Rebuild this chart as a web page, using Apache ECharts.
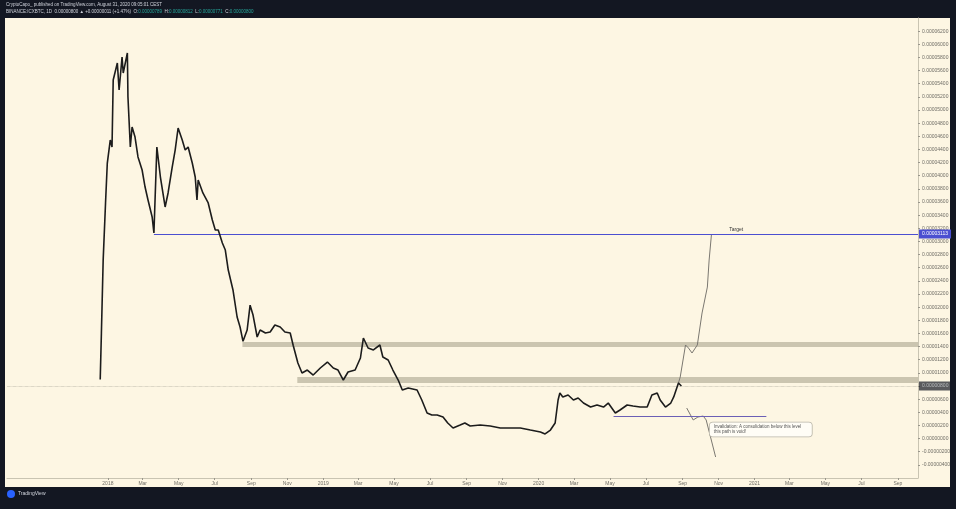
<!DOCTYPE html>
<html>
<head>
<meta charset="utf-8">
<title>ICXBTC 1D</title>
<script src="https://cdn.jsdelivr.net/npm/echarts@6/dist/echarts.min.js"></script>
<style>
html, body { margin: 0; padding: 0; background: #131722; overflow: hidden; }
#frame { position: absolute; left: 5px; top: 18px; width: 945px; height: 469px; background: #fdf6e3; }
#chart { position: absolute; left: 0; top: 0; width: 956px; height: 509px; }
</style>
</head>
<body>
<div id="frame"></div>
<div id="chart"></div>
<script>
// price path (units of 1e-8 BTC)
const priceDates = [
  '2017-12-19', '2017-12-21', '2017-12-24', '2017-12-28', '2017-12-31', '2018-01-05', '2018-01-08', '2018-01-10',
  '2018-01-17', '2018-01-20', '2018-01-25', '2018-01-27', '2018-02-03', '2018-02-04', '2018-02-08', '2018-02-11',
  '2018-02-16', '2018-02-21', '2018-02-28', '2018-03-05', '2018-03-10', '2018-03-17', '2018-03-20', '2018-03-25',
  '2018-03-31', '2018-04-08', '2018-04-13', '2018-04-20', '2018-04-25', '2018-04-30', '2018-05-07', '2018-05-12',
  '2018-05-17', '2018-05-24', '2018-05-29', '2018-06-01', '2018-06-03', '2018-06-11', '2018-06-20', '2018-06-27',
  '2018-07-02', '2018-07-07', '2018-07-14', '2018-07-19', '2018-07-24', '2018-08-01', '2018-08-08', '2018-08-13',
  '2018-08-18', '2018-08-25', '2018-08-30', '2018-09-04', '2018-09-11', '2018-09-16', '2018-09-25', '2018-10-03',
  '2018-10-11', '2018-10-20', '2018-10-28', '2018-11-06', '2018-11-11', '2018-11-14', '2018-11-19', '2018-11-26',
  '2018-12-05', '2018-12-15', '2018-12-27', '2019-01-08', '2019-01-18', '2019-01-26', '2019-02-04', '2019-02-12',
  '2019-02-24', '2019-03-05', '2019-03-10', '2019-03-18', '2019-03-27', '2019-04-07', '2019-04-12', '2019-04-21',
  '2019-04-29', '2019-05-08', '2019-05-15', '2019-05-25', '2019-06-09', '2019-06-17', '2019-06-26', '2019-07-04',
  '2019-07-13', '2019-07-23', '2019-07-31', '2019-08-09', '2019-08-21', '2019-08-29', '2019-09-07', '2019-09-24',
  '2019-10-11', '2019-10-28', '2019-11-14', '2019-12-01', '2019-12-18', '2020-01-04', '2020-01-12', '2020-01-21',
  '2020-01-29', '2020-02-03', '2020-02-06', '2020-02-11', '2020-02-20', '2020-02-29', '2020-03-08', '2020-03-17',
  '2020-03-29', '2020-04-09', '2020-04-20', '2020-04-28', '2020-05-10', '2020-05-18', '2020-05-30', '2020-06-09',
  '2020-06-21', '2020-07-03', '2020-07-11', '2020-07-20', '2020-07-25', '2020-08-03', '2020-08-12', '2020-08-17',
  '2020-08-25', '2020-08-30'
];
const priceValues = [
  900, 1606, 2717, 3585, 4193, 4543, 4437, 5456,
  5715, 5304, 5806, 5563, 5867, 5198, 4437, 4741,
  4589, 4285, 4087, 3828, 3630, 3372, 3128, 4437,
  3980, 3524, 3737, 4132, 4391, 4726, 4543, 4391,
  4437, 4193, 3980, 3630, 3935, 3737, 3585, 3326,
  3174, 3174, 2976, 2869, 2565, 2261, 1850, 1698,
  1480, 1652, 2030, 1880, 1546, 1652, 1606, 1622,
  1728, 1698, 1622, 1606, 1420, 1393, 1150, 998,
  1043, 967, 1074, 1165, 1074, 1043, 891, 1013,
  1043, 1226, 1530, 1378, 1348, 1424, 1241, 1196,
  1043, 891, 739, 770, 739, 587, 389, 359,
  359, 328, 237, 161, 206, 237, 191, 206,
  191, 161, 161, 161, 130, 100, 70, 130,
  237, 587, 693, 633, 663, 587, 617, 541,
  480, 511, 480, 541, 389, 435, 511, 496,
  480, 480, 663, 693, 587, 480, 541, 633,
  846, 800
];
// drawn projections
const projUpDates = ['2020-08-25', '2020-08-28', '2020-09-06', '2020-09-11', '2020-09-17', '2020-09-26', '2020-10-04', '2020-10-13', '2020-10-16', '2020-10-20'];
const projUpValues = [846, 937, 1424, 1378, 1302, 1424, 1911, 2306, 2717, 3113];
const projDownDates = ['2020-09-08', '2020-09-19', '2020-09-27', '2020-10-06', '2020-10-11', '2020-10-27'];
const projDownValues = [465, 283, 328, 343, 283, -280];
// levels
const targetLevel = 3113;
const targetStart = '2018-03-20';
const upperBand = [1393, 1470];
const upperBandStart = '2018-08-17';
const lowerBand = [846, 937];
const lowerBandStart = '2018-11-18';
const supportLevel = 343;
const supportStart = '2020-05-07';
const supportEnd = '2021-01-21';
const lastPrice = priceValues[priceValues.length - 1];
// axes
const xMin = '2017-07-14';
const xMax = '2021-10-05';
const tickDates = [
  '2018-01-01', '2018-03-01', '2018-05-01', '2018-07-01', '2018-09-01', '2018-11-01',
  '2019-01-01', '2019-03-01', '2019-05-01', '2019-07-01', '2019-09-01', '2019-11-01',
  '2020-01-01', '2020-03-01', '2020-05-01', '2020-07-01', '2020-09-01', '2020-11-01',
  '2021-01-01', '2021-03-01', '2021-05-01', '2021-07-01', '2021-09-01'
];
const tickLabels = [
  '2018', 'Mar', 'May', 'Jul', 'Sep', 'Nov',
  '2019', 'Mar', 'May', 'Jul', 'Sep', 'Nov',
  '2020', 'Mar', 'May', 'Jul', 'Sep', 'Nov',
  '2021', 'Mar', 'May', 'Jul', 'Sep'
];

const fmt = v => (v / 1e8).toFixed(8);
const ts = d => Date.parse(d + 'T00:00:00Z');
const tickValues = tickDates.map(ts);
const font = '"Liberation Sans", Arial, sans-serif';

const chart = echarts.init(document.getElementById('chart'));
chart.setOption({
  animation: false,
  textStyle: { fontFamily: font },
  grid: { left: 7, right: 38, top: 18, bottom: 31 },
  xAxis: {
    type: 'value',
    min: ts(xMin),
    max: ts(xMax),
    splitLine: { show: false },
    axisLine: { onZero: false, lineStyle: { color: '#c9c4b2', width: 1 } },
    axisTick: { show: true, customValues: tickValues, length: 2, lineStyle: { color: '#9a978c' } },
    axisLabel: {
      customValues: tickValues,
      fontSize: 5,
      color: '#6f6d66',
      margin: 3,
      formatter: v => {
        const i = tickValues.indexOf(v);
        return i >= 0 ? tickLabels[i] : '';
      }
    }
  },
  yAxis: {
    type: 'value',
    position: 'right',
    min: -600,
    max: 6400,
    interval: 200,
    splitLine: { show: false },
    axisLine: { show: true, onZero: false, lineStyle: { color: '#c9c4b2' } },
    axisTick: { show: true, length: 2, lineStyle: { color: '#9a978c' } },
    axisLabel: {
      fontSize: 5,
      color: '#6f6d66',
      margin: 4,
      showMinLabel: false,
      showMaxLabel: false,
      formatter: fmt
    }
  },
  graphic: [
    {
      type: 'text', left: 6, top: 2,
      style: { text: 'CryptoCapo_ published on TradingView.com, August 31, 2020 09:05:01 CEST', fill: '#d1d4dc', font: '4.5px ' + font }
    },
    {
      type: 'text', left: 6, top: 9,
      style: {
        text: 'BINANCE:ICXBTC, 1D  0.00000800 \u25B2 +0.00000011 (+1.47%)  O:{g|0.00000789}  H:{g|0.00000812}  L:{g|0.00000771}  C:{g|0.00000800}',
        fill: '#d1d4dc', font: '4.5px ' + font,
        rich: { g: { fill: '#26a69a', font: '4.5px ' + font } }
      }
    },
    { type: 'circle', shape: { cx: 11, cy: 494, r: 4 }, style: { fill: '#2962ff' } },
    {
      type: 'text', left: 18, top: 491,
      style: { text: 'TradingView', fill: '#d1d4dc', font: '5px ' + font }
    }
  ],
  series: [
    {
      name: 'price',
      type: 'line',
      data: priceDates.map((d, i) => [ts(d), priceValues[i]]),
      symbol: 'none',
      z: 5,
      lineStyle: { color: '#1c1c1c', width: 1.6 },
      markArea: {
        silent: true,
        itemStyle: { color: '#cbc5b0' },
        data: [
          [{ coord: [ts(upperBandStart), upperBand[1]] }, { coord: [ts(xMax), upperBand[0]] }],
          [{ coord: [ts(lowerBandStart), lowerBand[1]] }, { coord: [ts(xMax), lowerBand[0]] }]
        ]
      },
      markLine: {
        silent: true,
        symbol: ['none', 'none'],
        data: [
          [
            {
              coord: [ts(targetStart), targetLevel],
              lineStyle: { color: '#4b4fd1', width: 1, type: 'solid' },
              label: {
                show: true, position: 'end', distance: 1, formatter: fmt(targetLevel),
                backgroundColor: '#4b4fd1', color: '#ffffff', fontSize: 5, padding: [2, 3]
              }
            },
            { coord: [ts(xMax), targetLevel] }
          ],
          {
            yAxis: lastPrice,
            lineStyle: { color: '#7d7a70', width: 0.6, type: 'dotted', opacity: 0.7 },
            label: {
              show: true, position: 'end', distance: 1, formatter: fmt(lastPrice),
              backgroundColor: '#131722', color: '#ffffff', fontSize: 5, padding: [2, 3]
            }
          },
          [
            {
              coord: [ts(supportStart), supportLevel],
              lineStyle: { color: '#6b5fb5', width: 1, type: 'solid' },
              label: { show: false }
            },
            { coord: [ts(supportEnd), supportLevel] }
          ]
        ]
      }
    },
    {
      name: 'projection up',
      type: 'line',
      data: projUpDates.map((d, i) => [ts(d), projUpValues[i]]),
      symbol: 'none',
      z: 4,
      lineStyle: { color: '#7a7770', width: 1 },
      markPoint: {
        silent: true,
        symbol: 'circle',
        symbolSize: 1,
        itemStyle: { color: 'transparent' },
        data: [{
          coord: [ts('2020-12-01'), targetLevel],
          label: { show: true, position: 'top', distance: 1, formatter: 'Target', fontSize: 5, color: '#333333' }
        }]
      }
    },
    {
      name: 'projection down',
      type: 'line',
      data: projDownDates.map((d, i) => [ts(d), projDownValues[i]]),
      symbol: 'none',
      z: 4,
      lineStyle: { color: '#7a7770', width: 1 },
      markPoint: {
        silent: true,
        symbol: 'circle',
        symbolSize: 1,
        itemStyle: { color: 'transparent' },
        data: [{
          coord: [ts('2020-10-18'), 237],
          label: {
            show: true, position: [0, 0],
            formatter: 'Invalidation: A consolidation below this level\nthis path is void!',
            fontSize: 4.5, color: '#555555', lineHeight: 5,
            backgroundColor: '#fffdf6', borderColor: '#b9b5a8', borderWidth: 0.8, borderRadius: 3,
            padding: [2, 12, 2, 4], width: 86, align: 'left'
          }
        }]
      }
    }
  ]
});
</script>
</body>
</html>
